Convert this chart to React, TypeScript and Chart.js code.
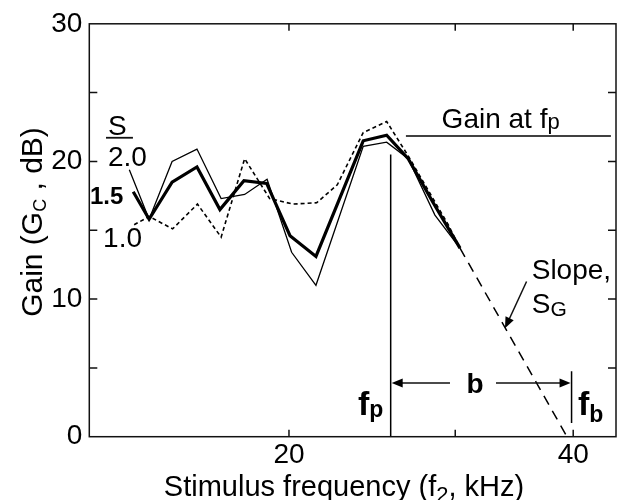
import React, { useEffect, useRef } from "react";
import { Chart, registerables } from "chart.js";
Chart.register(...registerables);

// ---- tick values ----
const xTickLabels = [20, 40];
const xTickMarks = [20, 30, 40];
const yTickLabels = [0, 10, 20, 30];
const yTickMarks = [5, 10, 15, 20, 25];

// ---- series: S = 2.0 (thin) ----
const s20Freq = [13.55, 14.22, 15.04, 15.98, 16.95, 17.95, 18.96, 20.13, 21.36, 23.97, 25.38, 26.75, 28.55, 30.35];
const s20Gain = [19.4, 15.8, 20.0, 20.9, 17.3, 17.6, 18.7, 13.4, 11.0, 21.1, 21.4, 20.2, 16.1, 13.7];

// ---- series: S = 1.5 (thick) ----
const s15Freq = [13.68, 14.22, 15.04, 15.98, 16.9, 17.92, 18.94, 20.05, 21.36, 23.97, 25.38, 26.75, 28.43, 30.35];
const s15Gain = [17.8, 15.8, 18.5, 19.6, 16.5, 18.6, 18.4, 14.6, 13.1, 21.5, 21.9, 20.2, 17.0, 13.7];

// ---- series: S = 1.0 (dotted) ----
const s10Freq = [13.71, 14.22, 15.06, 16.0, 16.95, 17.95, 19.08, 20.2, 21.4, 22.5, 23.97, 25.38, 26.75, 29.49, 30.35];
const s10Gain = [15.4, 16.0, 15.1, 16.9, 14.5, 20.2, 17.3, 16.9, 17.0, 18.3, 22.1, 22.9, 20.4, 15.4, 13.7];

// ---- slope extrapolation ----
const slopeFreq = [30.35, 39.4];
const slopeGain = [13.7, 0];

// ---- annotation values ----
const FP = 25.63;
const FB = 39.84;
const GAIN_AT_FP = 21.85;
const fpLineGain = [0, 20.5];
const gainLineFreq = [26.6, 43.85];
const fbLineGain = [1.0, 4.75];
const B_ARROW_GAIN = 3.9;
const B_LABEL_FREQ = 31.48;
const slopeArrowFrom = [35.7, 11.28];
const slopeArrowTo = [33.87, 7.88];

const X_MIN = 12.29;
const X_MAX = 44.4;

const FONT = '"Liberation Sans", Arial, Helvetica, sans-serif';

type Seg = { text: string; size: number; bold?: boolean; dy?: number };

const zip = (xs: number[], ys: number[]) => xs.map((x, i) => ({ x, y: ys[i] }));

function fontStr(s: Seg) {
  return `${s.bold ? "bold " : ""}${s.size}px ${FONT}`;
}

function drawRich(ctx: CanvasRenderingContext2D, x: number, y: number, segs: Seg[], align: "left" | "center") {
  let total = 0;
  const widths = segs.map((s) => {
    ctx.font = fontStr(s);
    const w = ctx.measureText(s.text).width;
    total += w;
    return w;
  });
  let cx = align === "center" ? x - total / 2 : x;
  segs.forEach((s, i) => {
    ctx.font = fontStr(s);
    ctx.fillText(s.text, cx, y + (s.dy || 0));
    cx += widths[i];
  });
}

function arrowHead(ctx: CanvasRenderingContext2D, tx: number, ty: number, angle: number, len = 11, half = 4.5) {
  ctx.save();
  ctx.translate(tx, ty);
  ctx.rotate(angle);
  ctx.beginPath();
  ctx.moveTo(0, 0);
  ctx.lineTo(-len, -half);
  ctx.lineTo(-len, half);
  ctx.closePath();
  ctx.fill();
  ctx.restore();
}

const decorPlugin = {
  id: "decor",
  afterDraw(chart: any) {
    const ctx: CanvasRenderingContext2D = chart.ctx;
    const xs = chart.scales.x;
    const ys = chart.scales.y;
    const { left, right, top, bottom } = chart.chartArea;
    const px = (v: number) => xs.getPixelForValue(v);
    const py = (v: number) => ys.getPixelForValue(v);
    ctx.save();
    ctx.strokeStyle = "#111";
    ctx.fillStyle = "#000";
    ctx.lineWidth = 1.5;
    // frame
    ctx.strokeRect(left, top, right - left, bottom - top);
    // inward ticks
    ctx.beginPath();
    yTickMarks.forEach((v) => {
      const y = py(v);
      ctx.moveTo(left, y);
      ctx.lineTo(left + 8, y);
      ctx.moveTo(right - 8, y);
      ctx.lineTo(right, y);
    });
    xTickMarks.forEach((v) => {
      const x = px(v);
      ctx.moveTo(x, bottom);
      ctx.lineTo(x, bottom - 7);
      ctx.moveTo(x, top);
      ctx.lineTo(x, top + 7);
    });
    ctx.stroke();

    ctx.textAlign = "left";
    ctx.textBaseline = "alphabetic";

    // axis titles
    drawRich(ctx, 344, 496, [
      { text: "Stimulus frequency (f", size: 29 },
      { text: "2", size: 22, dy: 6 },
      { text: ", kHz)", size: 29 },
    ], "center");
    ctx.save();
    ctx.translate(42, 222);
    ctx.rotate(-Math.PI / 2);
    drawRich(ctx, 0, 0, [
      { text: "Gain (G", size: 30 },
      { text: "C", size: 18, dy: 4 },
      { text: " , dB)", size: 30 },
    ], "center");
    ctx.restore();

    // series labels
    drawRich(ctx, px(12.86), py(21.94), [{ text: "S", size: 28 }], "left");
    ctx.beginPath();
    ctx.lineWidth = 1.8;
    ctx.moveTo(px(12.8), py(21.72));
    ctx.lineTo(px(13.67), py(21.72));
    ctx.stroke();
    drawRich(ctx, px(12.86), py(19.7), [{ text: "2.0", size: 28 }], "left");
    drawRich(ctx, px(12.31), py(16.9), [{ text: "1.5", size: 24, bold: true }], "left");
    drawRich(ctx, px(12.71), py(13.8), [{ text: "1.0", size: 28 }], "left");

    // Gain at fp
    drawRich(ctx, px(29.02), py(22.44), [
      { text: "Gain at f", size: 28 },
      { text: "p", size: 22, dy: 1 },
    ], "left");

    // Slope label
    drawRich(ctx, px(36.15), py(11.43), [{ text: "Slope,", size: 28 }], "left");
    drawRich(ctx, px(36.15), py(8.98), [
      { text: "S", size: 28 },
      { text: "G", size: 21, dy: 3 },
    ], "left");
    // slope arrow
    ctx.lineWidth = 1.5;
    const ax0 = px(slopeArrowFrom[0]);
    const ay0 = py(slopeArrowFrom[1]);
    const ax1 = px(slopeArrowTo[0]);
    const ay1 = py(slopeArrowTo[1]);
    const ang = Math.atan2(ay1 - ay0, ax1 - ax0);
    ctx.beginPath();
    ctx.moveTo(ax0, ay0);
    ctx.lineTo(ax1 - Math.cos(ang) * 8, ay1 - Math.sin(ang) * 8);
    ctx.stroke();
    arrowHead(ctx, ax1, ay1, ang, 11, 4.5);

    // b arrow
    const by = py(B_ARROW_GAIN);
    const bx = px(B_LABEL_FREQ);
    const xfp = px(FP);
    const xfb = px(FB);
    ctx.beginPath();
    ctx.moveTo(bx - 25, by);
    ctx.lineTo(xfp + 8, by);
    ctx.moveTo(bx + 21, by);
    ctx.lineTo(xfb - 8, by);
    ctx.stroke();
    arrowHead(ctx, xfp + 1, by, Math.PI, 11, 4.5);
    arrowHead(ctx, xfb - 1, by, 0, 11, 4.5);
    drawRich(ctx, bx, py(3.2), [{ text: "b", size: 28, bold: true }], "center");
    // fp and fb labels
    drawRich(ctx, px(23.66), py(1.56), [
      { text: "f", size: 34, bold: true },
      { text: "p", size: 23, bold: true, dy: 2 },
    ], "left");
    drawRich(ctx, px(40.46), py(1.56), [
      { text: "f", size: 34, bold: true },
      { text: "b", size: 23, bold: true, dy: 7 },
    ], "left");
    ctx.restore();
  },
};

export default function App() {
  const ref = useRef<HTMLCanvasElement | null>(null);
  useEffect(() => {
    document.body.style.margin = "0";
    if (!ref.current) return;
    const black = "#000";
    const line = (data: { x: number; y: number }[], width: number, dash: number[] = []) => ({
      data,
      borderColor: black,
      backgroundColor: black,
      borderWidth: width,
      borderDash: dash,
      pointRadius: 0,
      tension: 0,
      fill: false,
    });
    const chart = new Chart(ref.current, {
      type: "line",
      data: {
        datasets: [
          { label: "S = 1.0", ...line(zip(s10Freq, s10Gain), 1.6, [4, 3]) },
          { label: "S = 2.0", ...line(zip(s20Freq, s20Gain), 1.3) },
          { label: "S = 1.5", ...line(zip(s15Freq, s15Gain), 3.2) },
          { label: "Slope", ...line(zip(slopeFreq, slopeGain), 1.5, [10, 7]) },
          { label: "fp", ...line(zip([FP, FP], fpLineGain), 1.5) },
          { label: "Gain at fp", ...line(zip(gainLineFreq, [GAIN_AT_FP, GAIN_AT_FP]), 1.5) },
          { label: "fb", ...line(zip([FB, FB], fbLineGain), 1.5) },
        ] as any,
      },
      options: {
        responsive: false,
        animation: false,
        layout: { padding: { top: 20.7, right: 1, left: 0, bottom: 0 } },
        plugins: { legend: { display: false }, tooltip: { enabled: false } },
        scales: {
          x: {
            type: "logarithmic",
            min: X_MIN,
            max: X_MAX,
            grid: { display: false, drawTicks: false },
            border: { display: false },
            afterBuildTicks: (s: any) => {
              s.ticks = xTickLabels.map((v) => ({ value: v }));
            },
            afterFit: (s: any) => {
              s.height = 63.3;
            },
            ticks: {
              color: "#000",
              padding: 2,
              maxRotation: 0,
              autoSkip: false,
              font: { family: FONT, size: 28 },
              callback: (v: any) => String(v),
            },
          },
          y: {
            type: "linear",
            min: 0,
            max: 30,
            grid: { display: false, drawTicks: false },
            border: { display: false },
            afterBuildTicks: (s: any) => {
              s.ticks = yTickLabels.map((v) => ({ value: v }));
            },
            afterFit: (s: any) => {
              s.width = 89.3;
            },
            ticks: {
              color: "#000",
              padding: 7,
              font: { family: FONT, size: 28 },
              callback: (v: any) => String(v),
            },
          },
        },
      } as any,
      plugins: [decorPlugin],
    });
    return () => chart.destroy();
  }, []);
  return (
    <div style={{ width: 617, height: 500, background: "#fff" }}>
      <canvas ref={ref} width={617} height={500} />
    </div>
  );
}
